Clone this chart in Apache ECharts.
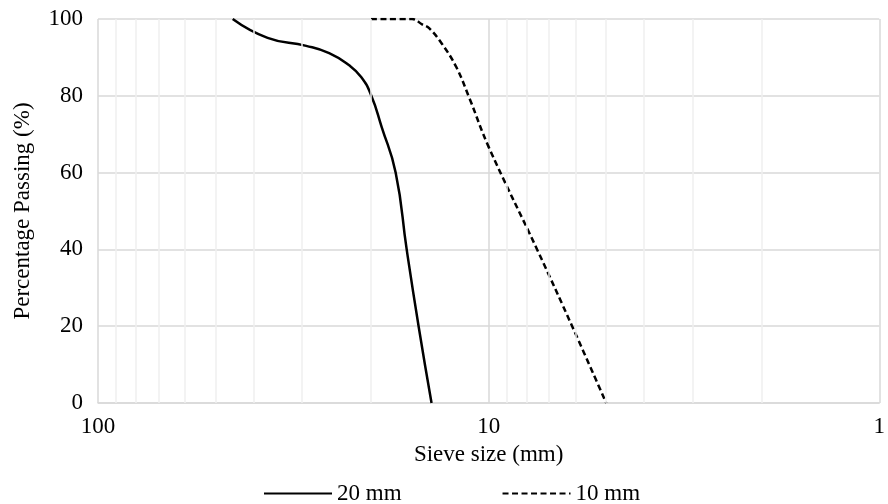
<!DOCTYPE html>
<html>
<head>
<meta charset="utf-8">
<title>Sieve analysis</title>
<script src="https://cdn.jsdelivr.net/npm/echarts@6/dist/echarts.min.js"></script>
<style>
  html, body { margin: 0; padding: 0; background: #ffffff; }
  #chart { width: 888px; height: 504px; }
</style>
</head>
<body>
<div id="chart"></div>
<script>
// Grading curves: [sieve size (mm), percentage passing (%)]
const seriesNames = ['20 mm', '10 mm'];
const grading20 = [
  [45.2, 100], [36.8, 95.1], [29.3, 93.0], [25.6, 91.1], [22.8, 88.0],
  [21.2, 84.9], [20.0, 80.2], [18.8, 72.0], [17.3, 60.0], [16.2, 39.8],
  [15.1, 19.8], [14.0, 0]
];
const grading10 = [
  [20, 100], [15.7, 100], [14.8, 98.6], [14.2, 97.6], [13.2, 93.7],
  [12.1, 87.5], [11.2, 79.4], [10, 66.7], [7.5, 39.8], [6.1, 19.8], [5, 0]
];
// Intermediate log-scale gridlines inside each decade
const minorGrid = [90, 80, 70, 60, 50, 40, 30, 20, 9, 8, 7, 6, 5, 4, 3, 2];
const xTicks = [100, 10, 1];
const yTicks = [0, 20, 40, 60, 80, 100];

const font = 'Liberation Serif, Times New Roman, serif';
const chart = echarts.init(document.getElementById('chart'), null, { renderer: 'canvas' });

chart.setOption({
  animation: false,
  backgroundColor: '#ffffff',
  grid: { left: 98, right: 6, top: 19, bottom: 101, containLabel: false },
  legend: {
    data: seriesNames,
    left: 258,
    top: 477,
    itemWidth: 68,
    itemHeight: 14,
    itemGap: 100,
    itemStyle: { opacity: 0 },
    textStyle: { fontFamily: font, fontSize: 23, color: '#000' }
  },
  xAxis: {
    type: 'log',
    logBase: 10,
    min: 1,
    max: 100,
    inverse: true,
    name: 'Sieve size (mm)',
    nameLocation: 'middle',
    nameGap: 40,
    nameTextStyle: { fontFamily: font, fontSize: 23, color: '#000' },
    axisLine: { show: true, lineStyle: { color: '#d9d9d9', width: 1.5 } },
    axisTick: { show: false },
    axisLabel: {
      fontFamily: font, fontSize: 23, color: '#000', margin: 12,
      formatter: function (v) { return xTicks.indexOf(Math.round(v)) >= 0 ? String(Math.round(v)) : ''; }
    },
    splitLine: { show: true, lineStyle: { color: '#d9d9d9', width: 1.5 } }
  },
  yAxis: {
    type: 'value',
    min: 0,
    max: 100,
    interval: 20,
    name: 'Percentage Passing (%)',
    nameLocation: 'middle',
    nameGap: 64,
    nameTextStyle: { fontFamily: font, fontSize: 23, color: '#000' },
    axisLine: { show: false },
    axisTick: { show: false },
    axisLabel: {
      fontFamily: font, fontSize: 23, color: '#000', margin: 15,
      formatter: function (v) { return yTicks.indexOf(v) >= 0 ? String(v) : ''; }
    },
    splitLine: { show: true, lineStyle: { color: '#d9d9d9', width: 1.5 } }
  },
  series: [
    {
      // minor decade gridlines
      type: 'line',
      data: [],
      silent: true,
      z: 1,
      markLine: {
        silent: true,
        symbol: 'none',
        label: { show: false },
        lineStyle: { color: '#efefef', width: 1.5, type: 'solid' },
        data: minorGrid.map(function (v) { return { xAxis: v }; })
      }
    },
    {
      name: seriesNames[0],
      type: 'line',
      data: grading20,
      smooth: 0.5,
      symbol: 'none',
      z: 3,
      lineStyle: { color: '#000', width: 2.5, type: 'solid' },
      itemStyle: { color: '#000' }
    },
    {
      name: seriesNames[1],
      type: 'line',
      data: grading10,
      smooth: 0.4,
      symbol: 'none',
      z: 3,
      lineStyle: { color: '#000', width: 2.5, type: [6, 3.5] },
      itemStyle: { color: '#000' }
    }
  ]
});
</script>
</body>
</html>
